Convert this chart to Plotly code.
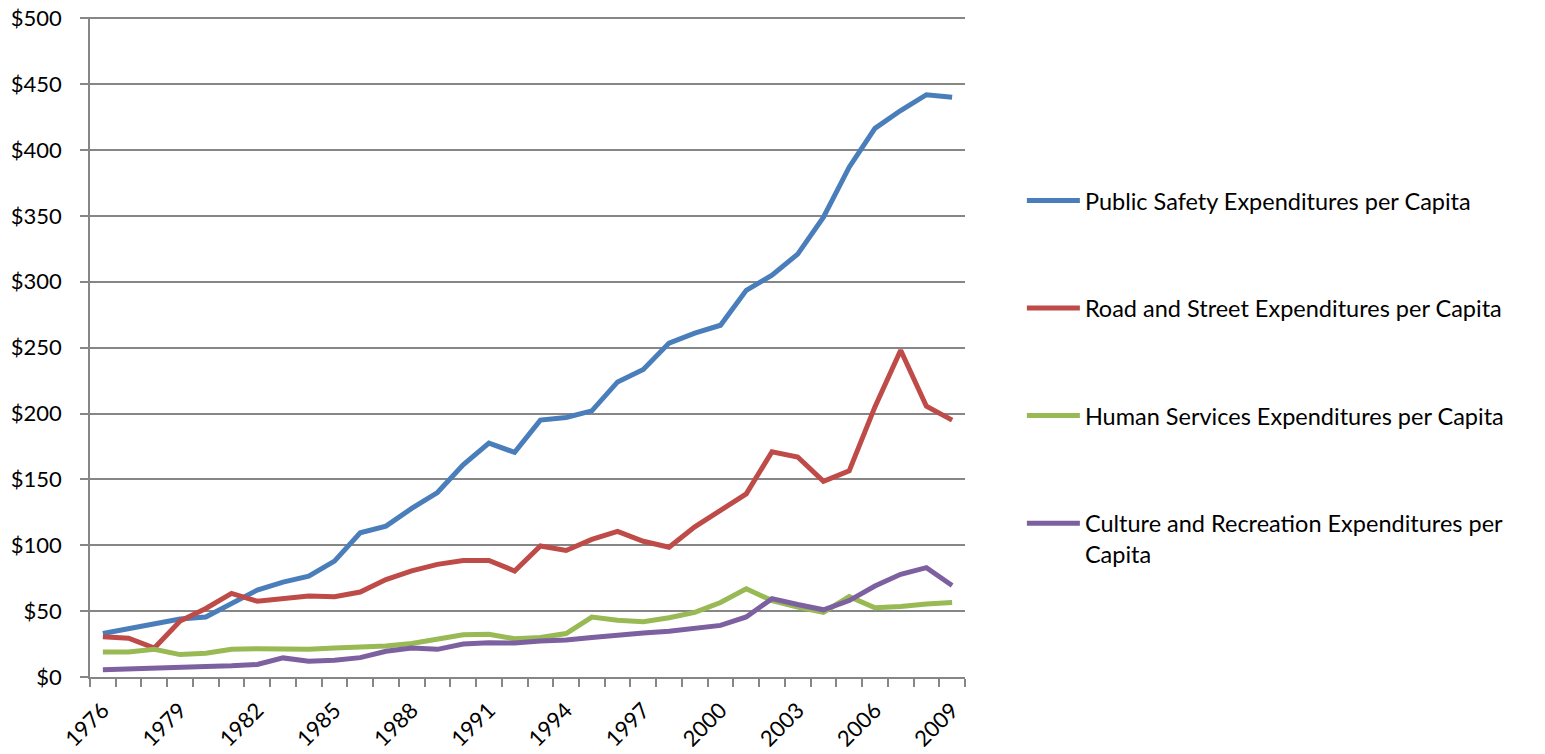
# gastos per capita 1976-2009
import plotly.graph_objects as go

years = list(range(1976, 2010))

public_safety = [33, 36.5, 40.5, 44, 45.5, 55.5, 66, 72, 76.5, 88, 109.5, 114.5, 128, 140,
                 161, 177.5, 170.5, 195, 197, 202, 224, 233.5, 253.5, 261, 267, 293.5,
                 305, 321, 349, 387, 416.5, 430, 442, 440]
road_street = [30.5, 29.5, 22, 42.5, 52, 63.5, 57.5, 59.5, 61.5, 61, 64.5, 74, 80.5, 85.5,
               88.5, 88.5, 80.5, 99.5, 96, 104.5, 110.5, 103, 98.5, 114, 126.5, 139,
               171, 167, 148.5, 156.5, 205, 248, 205.5, 195]
human_services = [19, 19, 21, 17, 18, 21, 21.5, 21.5, 21, 22, 23, 23.5, 25.5, 28.5,
                  32, 32.5, 29, 30, 33, 45.5, 43, 42, 45, 49, 56.5, 67,
                  58, 53, 49, 61, 52.5, 53.5, 55.5, 56.5]
culture_rec = [5.5, 6.3, 7, 7.6, 8, 8.5, 9.5, 14.5, 12, 12.8, 14.7, 19.5, 22, 21,
               25, 26, 25.8, 27.3, 28, 30, 32, 33.4, 34.7, 37.2, 39.2, 45.6,
               59.5, 55, 51, 58, 69, 78, 83, 69.5]

names = ["Public Safety Expenditures per Capita",
         "Road and Street Expenditures per Capita",
         "Human Services Expenditures per Capita",
         "Culture and Recreation Expenditures per<br>Capita"]
colors = ["#4A7EBB", "#BE4B48", "#98B954", "#7D60A0"]
series = [public_safety, road_street, human_services, culture_rec]

tick_years = years[::3]
grey = "#868686"

fig = go.Figure()
for i, (nm, vals, c) in enumerate(zip(names, series, colors)):
    fig.add_trace(go.Scatter(
        x=years, y=vals, mode="lines", name=nm,
        legendgroup=str(i),
        line=dict(color=c, width=5),
    ))

fig.update_layout(
    width=1545, height=754,
    margin=dict(l=90, r=580, t=17, b=77, autoexpand=False),
    plot_bgcolor="white", paper_bgcolor="white",
    font=dict(family="Lato, Calibri, sans-serif", size=22, color="black"),
    showlegend=True,
    legend=dict(
        x=1.065, xanchor="left", y=0.755, yanchor="top",
        tracegroupgap=74, itemwidth=53, valign="top",
        font=dict(size=23.5),
    ),
)
fig.update_xaxes(
    range=[1975.5, 2009.5], automargin=False,
    tickvals=tick_years, ticktext=[str(y) for y in tick_years],
    tickangle=-45, ticks="outside", ticklen=10, tickcolor="rgba(0,0,0,0)",
    showline=True, linecolor=grey, linewidth=1.5,
    showgrid=False, zeroline=False, ticklabeloverflow="allow",
    minor=dict(tick0=1975.5, dtick=1, ticks="outside", ticklen=8,
               tickcolor=grey, tickwidth=1.5, showgrid=False),
)
fig.update_yaxes(
    range=[0, 501], tick0=0, dtick=50, tickprefix="$", automargin=False,
    ticks="outside", ticklen=8, tickcolor=grey, tickwidth=1.5,
    showline=True, linecolor=grey, linewidth=1.5,
    gridcolor=grey, gridwidth=1.5, zeroline=False,
    ticklabelstandoff=14, ticklabeloverflow="allow",
)

# sin margen en el body para que el grafico empiece en 0,0
fig.write_html("out.html", config={"displayModeBar": False},
               post_script="document.body.style.margin='0';")
